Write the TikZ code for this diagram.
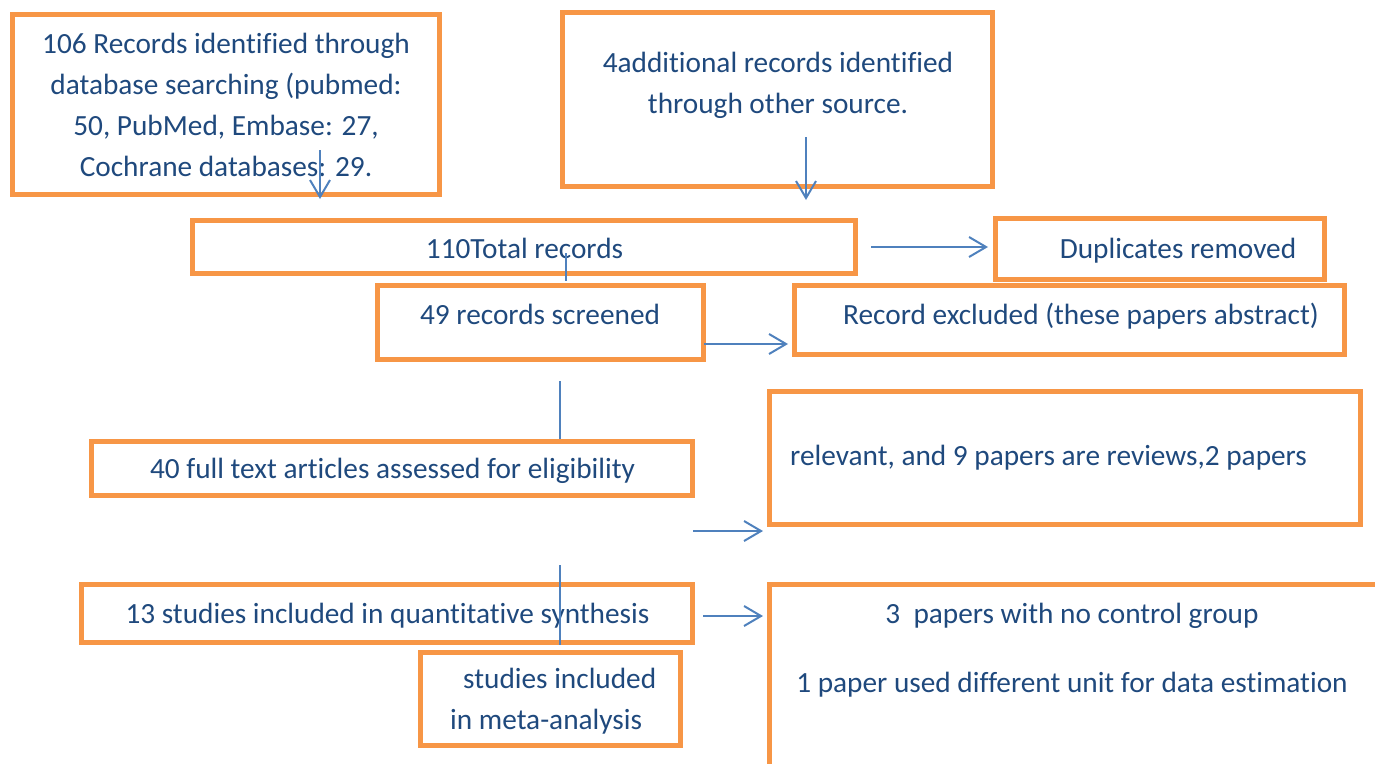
\documentclass[tikz,border=0pt]{standalone}
\usepackage{fontspec}
\setmainfont[Ligatures=NoCommon]{Carlito}
\usetikzlibrary{arrows.meta,calc}
\definecolor{prismaorange}{HTML}{F79646}
\definecolor{prismablue}{HTML}{4F81BD}
\definecolor{prismatext}{HTML}{1F497D}
\tikzset{
prisma box/.style={
  draw=prismaorange,
  line width=5pt,
  inner sep=0pt
},
prisma text/.style={
  text=prismatext,
  font=\fontsize{29.3}{41}\selectfont,
  inner sep=0pt,
  align=center,
  anchor=base
},
prisma flow/.style={
  draw=prismablue,
  line width=2pt,
  -{Straight Barb[length=17pt,width=20pt]}
},
prisma tick/.style={draw=prismablue, line width=2pt}
}

\begin{document}
\begin{tikzpicture}[x=1pt,y=-1pt]
\useasboundingbox (0,0) rectangle (1375,763);
\clip (0,0) rectangle (1375,763);
% boxes
\node[prisma box, minimum width=427pt, minimum height=180pt] (boxA) at (226,104.5) {};
\node[prisma box, minimum width=430pt, minimum height=174pt] (boxB) at (777.5,99.5) {};
\node[prisma box, minimum width=663pt, minimum height=53pt] (boxC) at (524,247) {};
\node[prisma box, minimum width=329pt, minimum height=61pt] (boxD) at (1160,249) {};
\node[prisma box, minimum width=326pt, minimum height=74pt] (boxE) at (540.5,322.5) {};
\node[prisma box, minimum width=550pt, minimum height=69pt] (boxF) at (1069.5,320) {};
\node[prisma box, minimum width=601pt, minimum height=54pt] (boxG) at (392,468.5) {};
\node[prisma box, minimum width=591pt, minimum height=133pt] (boxH) at (1065,458) {};
\node[prisma box, minimum width=611pt, minimum height=58pt] (boxI) at (387,613.5) {};
\node[prisma box, minimum width=260pt, minimum height=93pt] (boxJ) at (550.5,699) {};
\node[prisma box, minimum width=621pt, minimum height=191pt] (boxK) at (1080,680) {};
% texts (base = last line)
\node[prisma text] (tA) at (226,176) {106 Records identified through\\database searching (pubmed:\\50, PubMed, Embase: 27,\\Cochrane databases: 29.};
\node[prisma text] (tB) at (778,113) {4additional records identified\\through other source.};
\node[prisma text] (tC) at (524.5,258) {110Total records};
\node[prisma text] (tD) at (1178,258) {Duplicates removed};
\node[prisma text] (tE) at (540,324) {49 records screened};
\node[prisma text] (tF) at (1081,324) {Record excluded (these papers abstract)};
\node[prisma text] (tG) at (392.5,478) {40 full text articles assessed for eligibility};
\node[prisma text, anchor=base west] (tH) at (790,465) {relevant, and 9 papers are reviews,2 papers};
\node[prisma text] (tI) at (387.5,623) {13 studies included in quantitative synthesis};
\node[prisma text, anchor=base west, align=left] (tJ) at (450,729) {\hspace*{13pt}studies included\\in meta-analysis};
\node[prisma text] (tK) at (1072,692) {3\ \ papers with no control group\\[28pt]1 paper used different unit for data estimation};
% connectors
\coordinate (a1) at (320,150);
\coordinate (b1) at (806,137);
\coordinate (c1) at (566,253);
\coordinate (e1) at (704,344);
\coordinate (g0) at (560,381);
\coordinate (h0) at (693,531);
\coordinate (i0) at (560,565);
\coordinate (k0) at (703,616);
\draw[prisma flow] (a1) -- ([yshift=-2pt]a1 |- boxA.south);
\draw[prisma flow] (b1) -- ([yshift=-11pt]b1 |- boxB.south);
\draw[prisma flow] ([xshift=13pt]boxC.east) -- ([xshift=-5pt]boxD.west |- boxC.east);
\draw[prisma tick] (c1) -- ([yshift=-5pt]c1 |- boxC.south);
\draw[prisma flow] (e1) -- ([xshift=-4pt]e1 -| boxF.west);
\draw[prisma tick] (g0) -- (g0 |- boxG.north);
\draw[prisma flow] (h0) -- ([xshift=-4pt]h0 -| boxH.west);
\draw[prisma tick] (i0) -- (i0 |- boxI.south);
\draw[prisma flow] (k0) -- ([xshift=-4pt]k0 -| boxK.west);
\end{tikzpicture}
\end{document}
